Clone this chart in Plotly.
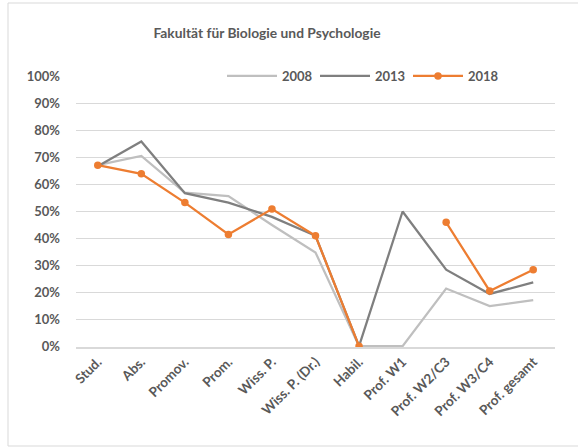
import plotly.graph_objects as go

categories = ["Stud.", "Abs.", "Promov.", "Prom.", "Wiss. P.", "Wiss. P. (Dr.)",
              "Habil.", "Prof. W1", "Prof. W2/C3", "Prof. W3/C4", "Prof. gesamt"]
v2008 = [0.672, 0.706, 0.570, 0.557, 0.450, 0.348, 0.0, 0.0, 0.214, 0.149, 0.171]
v2013 = [0.668, 0.760, 0.568, 0.533, 0.480, 0.410, 0.0, 0.500, 0.284, 0.194, 0.237]
v2018 = [0.672, 0.640, 0.533, 0.415, 0.509, 0.410, 0.0, None, 0.460, 0.205, 0.284]
series_names = ["2008", "2013", "2018"]
y_ticks = [0, 0.1, 0.2, 0.3, 0.4, 0.5, 0.6, 0.7, 0.8, 0.9, 1.0]
y_labels = ["0%", "10%", "20%", "30%", "40%", "50%", "60%", "70%", "80%", "90%", "100%"]

FONT = "Lato"
TXT = "#595959"

fig = go.Figure()
fig.add_trace(go.Scatter(x=categories, y=v2008, name=series_names[0], mode="lines",
                         line=dict(color="#bfbfbf", width=2.25)))
fig.add_trace(go.Scatter(x=categories, y=v2013, name=series_names[1], mode="lines",
                         line=dict(color="#7f7f7f", width=2.25)))
fig.add_trace(go.Scatter(x=categories, y=v2018, name=series_names[2], mode="lines+markers",
                         line=dict(color="#ed7d31", width=2.25),
                         marker=dict(color="#ed7d31", size=7.5), connectgaps=False))

L, R, T, B = 76, 23, 76, 100
W, H = 578, 447
pw = W - L - R
ph = H - T - B

def px_x(p):
    return (p - L) / pw

def px_y(p):
    return (H - B - p) / ph

fig.add_shape(type="rect", xref="paper", yref="paper",
              x0=px_x(8), x1=px_x(590), y0=px_y(446), y1=px_y(3),
              line=dict(color="#d9d9d9", width=1), fillcolor="rgba(0,0,0,0)", layer="below")

fig.update_layout(
    width=W, height=H,
    margin=dict(l=L, r=R, t=T, b=B, autoexpand=False),
    paper_bgcolor="white", plot_bgcolor="white",
    title=dict(text="<b>Fakultät für Biologie und Psychologie</b>",
               x=267 / W, xanchor="center", xref="container",
               y=1 - 33 / H, yanchor="middle", yref="container",
               font=dict(family=FONT, size=13.8, color=TXT)),
    font=dict(family=FONT, color=TXT),
    showlegend=True,
    legend=dict(orientation="h", x=px_x(222), xanchor="left", y=1.0, yanchor="middle",
                bgcolor="white", font=dict(family=FONT, size=13, color=TXT, weight="bold"),
                entrywidth=28, entrywidthmode="pixels", itemwidth=50,
                traceorder="normal", borderwidth=0),
    xaxis=dict(type="category", tickangle=-45, showgrid=False, automargin=False,
               showline=True, linecolor="#d9d9d9", linewidth=1.5,
               ticks="", tickfont=dict(family=FONT, size=13.5, color=TXT, weight="bold"),
               range=[-0.5, len(categories) - 0.5], fixedrange=True),
    yaxis=dict(range=[-0.003, 1.003], tickvals=y_ticks, ticktext=y_labels,
               showgrid=True, gridcolor="#d9d9d9", gridwidth=1.3, zeroline=False,
               ticks="", ticklabelstandoff=15, automargin=False,
               tickfont=dict(family=FONT, size=13, color=TXT, weight="bold"),
               fixedrange=True),
)

fig.write_html("out.html", config={"displayModeBar": False},
               post_script="document.body.style.margin='0';document.body.style.padding='0';")
